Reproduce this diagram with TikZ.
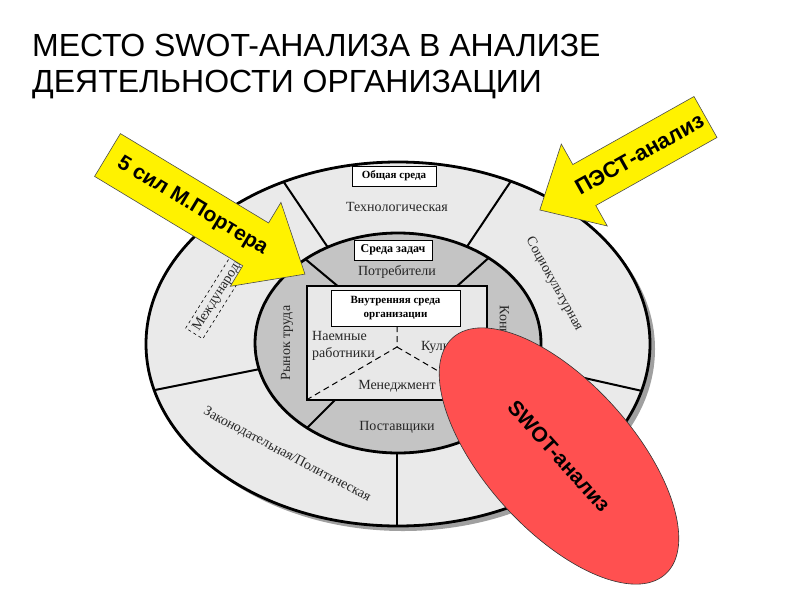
\documentclass[tikz,border=0pt]{standalone}
\usepackage{fontspec}
\setmainfont{Liberation Serif}
\newfontfamily\arialf{Liberation Sans}
\usetikzlibrary{shapes.geometric}
\definecolor{ringout}{RGB}{234,234,234}
\definecolor{ringin}{RGB}{196,196,196}
\definecolor{rectin}{RGB}{232,232,232}
\definecolor{swotred}{RGB}{255,80,80}
\definecolor{shadowc}{RGB}{160,160,160}
\tikzset{
  ringlbl/.style={font=\fontsize{14}{16}\selectfont, text=black!85, inner sep=0},
  boxlbl/.style={draw, fill=white, line width=0.8, inner sep=0, align=center},
  arrowtxt/.style={font=\arialf\bfseries\fontsize{21}{24}\selectfont, inner sep=0},
  yarrow/.style={fill=yellow, draw=black!70, line width=0.6},
  radial/.style={line width=2},
  rim/.style={line width=2.8},
  titletxt/.style={anchor=base west, font=\arialf\fontsize{32}{38}\selectfont, inner sep=0},
}
\begin{document}
\begin{tikzpicture}[x=1pt,y=-1pt]
\useasboundingbox (0,0) rectangle (800,600);
% title
\node[titletxt] (title1) at (32,56) {МЕСТО SWOT-АНАЛИЗА В АНАЛИЗЕ};
\node[titletxt] (title2) at (32,92) {ДЕЯТЕЛЬНОСТИ ОРГАНИЗАЦИИ};
% outer ring
\fill[shadowc] (403,349) ellipse [x radius=252, y radius=182];
\fill[ringout] (398,344) ellipse [x radius=252, y radius=182];
\begin{scope}
  \clip (398,344) ellipse [x radius=252, y radius=182];
  \draw[radial] (279,175) -- (335,258);
  \draw[radial] (515,175) -- (460,257);
  \draw[radial] (140,393) -- (275,366);
  \draw[radial] (540,368) -- (660,395);
  \draw[radial] (397,440) -- (397,540);
\end{scope}
\draw[rim] (398,344) ellipse [x radius=252, y radius=182];
% inner ring
\fill[ringin] (398,343) ellipse [x radius=143, y radius=110];
\begin{scope}
  \clip (398,343) ellipse [x radius=143, y radius=110];
  \draw[radial] (298,253) -- (340,288);
  \draw[radial] (493,254) -- (455,288);
  \draw[radial] (302,433) -- (338,397);
  \draw[radial] (492,433) -- (457,397);
\end{scope}
\draw[rim] (398,343) ellipse [x radius=143, y radius=110];
% inner rectangle
\filldraw[fill=rectin, line width=2] (307,286) rectangle (487,400);
\draw[line width=1, dash pattern=on 6pt off 4pt] (397,326) -- (397,347) -- (308,399);
\draw[line width=1, dash pattern=on 6pt off 4pt] (397,347) -- (486,399);
% labels
\node[boxlbl, minimum width=84, minimum height=20, font=\bfseries\fontsize{11}{12}\selectfont] (general) at (394,176) {Общая среда};
\node[ringlbl] (tech) at (397,207) {Технологическая};
\node[boxlbl, minimum width=78, minimum height=20, font=\bfseries\fontsize{12}{13}\selectfont] (task) at (393,250) {Среда задач};
\node[ringlbl] (cons) at (397,272) {Потребители};
\node[boxlbl, minimum width=129, minimum height=36, font=\bfseries\fontsize{11}{14}\selectfont] (internal) at (395.5,308) {Внутренняя среда\\организации};
\node[ringlbl, anchor=west, align=left, font=\fontsize{14}{17}\selectfont] (hired) at (312,346) {Наемные\\работники};
\node[ringlbl, anchor=west] (cult) at (421,347) {Культура};
\node[ringlbl] (mgmt) at (397,386) {Менеджмент};
\node[ringlbl] (supp) at (397,427) {Поставщики};
\node[ringlbl, rotate=90] (labor) at (287,343) {Рынок труда};
\node[ringlbl, rotate=-90] (comp) at (503,342) {Конкуренты};
\node[ringlbl, rotate=-61] (socio) at (554,284) {Социокультурная};
\node[ringlbl, rotate=-28] (legal) at (287,455) {Законодательная/Политическая};
\node[ringlbl, draw, dashed, line width=0.6, inner sep=4, rotate=58] (intl) at (222,289) {Международная};
% left yellow arrow
\begin{scope}[shift={(107.5,155)}, rotate=-31.1]
  \filldraw[yarrow] (0,-25) -- (173,-25) -- (173,-49) -- (230.6,0) -- (173,49) -- (173,25) -- (0,25) -- cycle;
  \node[arrowtxt, rotate=-31.1] (porter) at (99,0) {5 сил М.Портера};
\end{scope}
% right yellow arrow
\begin{scope}[shift={(705.5,117)}, rotate=-150.7]
  \filldraw[yarrow] (0,-23.5) -- (139,-23.5) -- (139,-47) -- (190,0) -- (139,47) -- (139,23.5) -- (0,23.5) -- cycle;
  \node[arrowtxt, font=\arialf\bfseries\fontsize{22}{24}\selectfont, rotate=29.3] (pest) at (76,0) {ПЭСТ-анализ};
\end{scope}
% SWOT ellipse
\node[ellipse, fill=swotred, draw=black!80, line width=0.6, minimum width=318, minimum height=148, inner sep=0, rotate=-48, font=\arialf\bfseries\fontsize{21}{24}\selectfont] (swot) at (559,456) {SWOT-анализ};
\end{tikzpicture}
\end{document}
